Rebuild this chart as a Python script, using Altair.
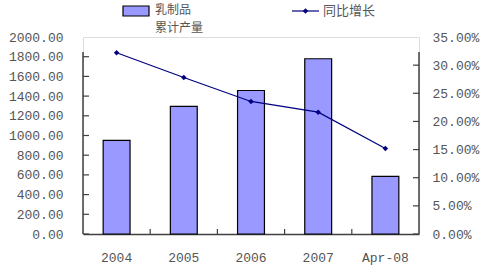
import altair as alt
import pandas as pd

categories = ["2004", "2005", "2006", "2007", "Apr-08"]
output = [950, 1295, 1457, 1779, 585]
growth = [0.322, 0.278, 0.2355, 0.2165, 0.152]
left_ticks = [0, 200, 400, 600, 800, 1000, 1200, 1400, 1600, 1800]
right_ticks = [0.0, 0.05, 0.10, 0.15, 0.20, 0.25, 0.30]
bar_label = ["乳制品", "累计产量"]
line_label = "同比增长"

W, H = 336, 197
AX = "#404040"
LAB = "#555555"
NUM_FONT = "Liberation Mono"
CJK_FONT = "Noto Sans CJK SC"

df = pd.DataFrame({"cat": categories, "output": output, "growth": growth})
one = pd.DataFrame({"a": [0]})

x_enc = alt.X("cat:N", sort=categories, title=None,
              scale=alt.Scale(paddingInner=0, paddingOuter=0),
              axis=alt.Axis(labelAngle=0, ticks=False, domainColor=AX, domainWidth=1.5,
                            labelFont=NUM_FONT, labelFontSize=13, labelColor=LAB,
                            labelPadding=17))

left_scale = alt.Scale(domain=[0, 2000], nice=False)
right_scale = alt.Scale(domain=[0, 0.35], nice=False)

bars = alt.Chart(df).mark_bar(
    color="#9999FF", stroke="#000000", strokeWidth=1.2,
    width=alt.RelativeBandSize(0.4)
).encode(
    x=x_enc,
    y=alt.Y("output:Q", scale=left_scale, title=None,
            axis=alt.Axis(values=[0, 200, 400, 600, 800, 1000, 1200, 1400, 1600, 1800, 2000],
                          format=".2f", ticks=False, domain=False, grid=False,
                          labelFont=NUM_FONT, labelFontSize=13, labelColor=LAB,
                          labelPadding=20, labelBaseline="middle")),
)

line = alt.Chart(df).mark_line(
    color="#000080", strokeWidth=1.2,
    point=alt.OverlayMarkDef(shape="diamond", filled=True, color="#000080", size=30)
).encode(
    x=alt.X("cat:N", sort=categories),
    y=alt.Y("growth:Q", scale=right_scale, title=None,
            axis=alt.Axis(orient="right", values=[0, 0.05, 0.1, 0.15, 0.2, 0.25, 0.3, 0.35],
                          format=".2%", ticks=False, domain=False, grid=False,
                          labelFont=NUM_FONT, labelFontSize=13, labelColor=LAB,
                          labelPadding=13, labelBaseline="middle")),
)

ltdf = pd.DataFrame({"v": left_ticks})
rtdf = pd.DataFrame({"v": right_ticks})

left_axis_line = alt.Chart(one).mark_rule(color=AX, strokeWidth=1.5).encode(
    x=alt.value(0), y=alt.value(H), y2=alt.value(15))
right_axis_line = alt.Chart(one).mark_rule(color=AX, strokeWidth=1.5).encode(
    x=alt.value(W), y=alt.value(H), y2=alt.value(15))

left_tick_marks = alt.Chart(ltdf).mark_rule(color=AX, strokeWidth=1.2).encode(
    x=alt.value(0), x2=alt.value(6),
    y=alt.Y("v:Q", scale=left_scale, axis=None))
right_tick_marks = alt.Chart(rtdf).mark_rule(color=AX, strokeWidth=1.2).encode(
    x=alt.value(W - 6), x2=alt.value(W),
    y=alt.Y("v:Q", scale=right_scale, axis=None))

x_tick_marks = [
    alt.Chart(one).mark_rule(color=AX, strokeWidth=1.2).encode(
        x=alt.value(W / 5 * i), y=alt.value(H - 5), y2=alt.value(H))
    for i in range(1, 5)
]

# Legend
swatch = alt.Chart(one).mark_rect(color="#9999FF", stroke="#000000", strokeWidth=1.2).encode(
    x=alt.value(40), x2=alt.value(66), y=alt.value(-31), y2=alt.value(-21))
txt1a = alt.Chart(one).mark_text(align="left", baseline="middle", font=CJK_FONT, fontSize=12,
                                 color=LAB).encode(
    x=alt.value(72), y=alt.value(-27), text=alt.value(bar_label[0]))
txt1b = alt.Chart(one).mark_text(align="left", baseline="middle", font=CJK_FONT, fontSize=12,
                                 color=LAB).encode(
    x=alt.value(72), y=alt.value(-9.3), text=alt.value(bar_label[1]))
leg_line = alt.Chart(one).mark_rule(color="#000080", strokeWidth=1.2).encode(
    x=alt.value(209), x2=alt.value(236), y=alt.value(-26))
leg_pt = alt.Chart(one).mark_point(shape="diamond", filled=True, color="#000080", size=30,
                                   opacity=1).encode(
    x=alt.value(222.5), y=alt.value(-26))
txt2 = alt.Chart(one).mark_text(align="left", baseline="middle", font=CJK_FONT, fontSize=13,
                                color=LAB).encode(
    x=alt.value(240), y=alt.value(-26), text=alt.value(line_label))

chart = alt.layer(
    bars, line, left_axis_line, right_axis_line, left_tick_marks, right_tick_marks,
    *x_tick_marks, swatch, txt1a, txt1b, leg_line, leg_pt, txt2
).resolve_scale(y="independent").properties(
    width=W, height=H,
    autosize=alt.AutoSizeParams(type="none"),
    padding={"left": 83, "top": 37, "right": 71, "bottom": 35},
).configure_view(stroke=None).configure(background="white")

chart.save("out.html", embed_options={"renderer": "svg", "actions": False})
